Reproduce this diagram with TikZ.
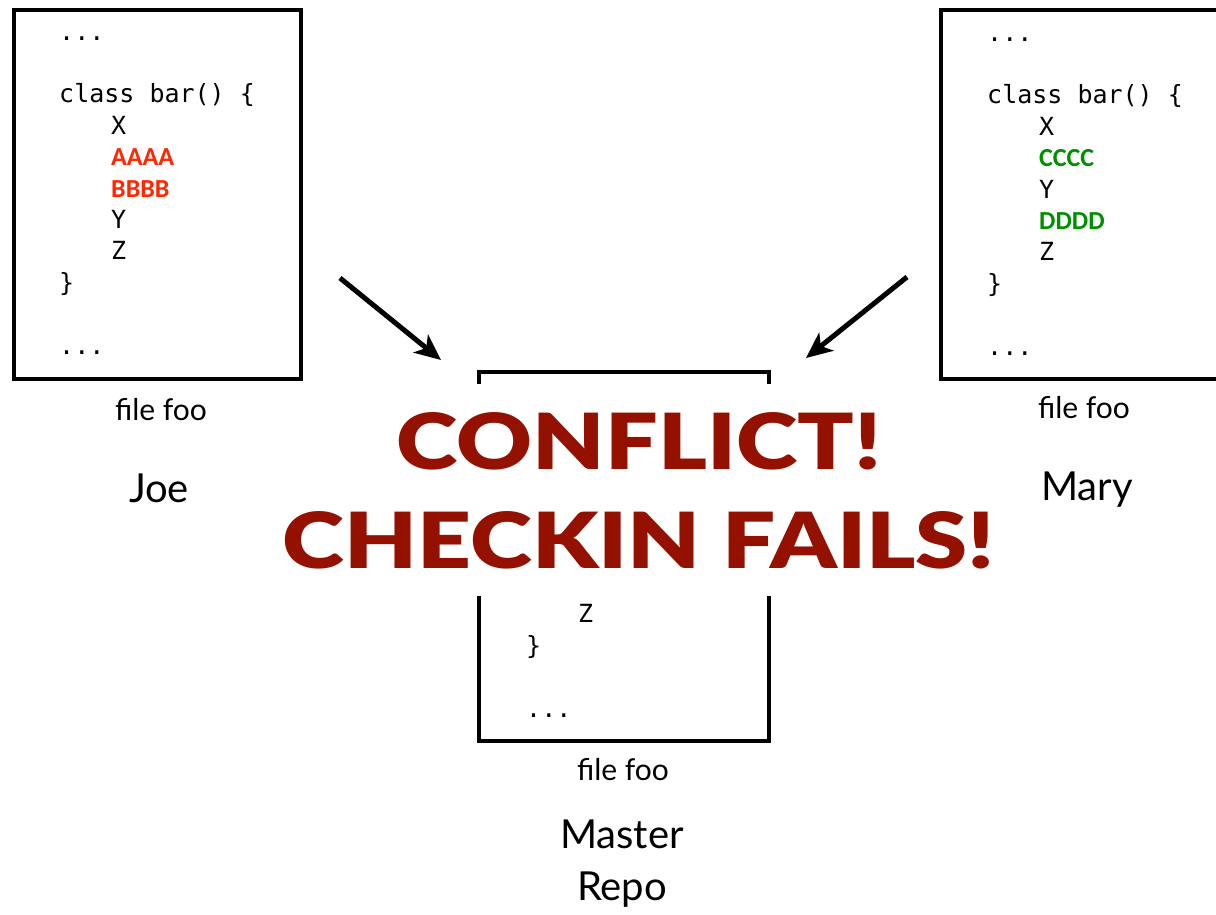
\documentclass[tikz,border=0pt]{standalone}
\usepackage{fontspec}
\usepackage{graphicx}
\setmainfont{Lato}
\setmonofont{DejaVu Sans Mono}
\newfontfamily\codebold{Carlito}
\newfontfamily\heavyfont{Lato Black}
\usetikzlibrary{arrows.meta}

\definecolor{cayenne}{HTML}{941100}
\definecolor{addred}{HTML}{FF2600}
\definecolor{addgreen}{HTML}{008F00}

\tikzset{
  filebox/.style={line width=4pt},
  code/.style={anchor=base west, inner sep=0pt, font=\fontsize{25}{25}\selectfont\ttfamily},
  added/.style={anchor=base west, inner sep=0pt, font=\fontsize{26}{26}\selectfont\codebold\bfseries},
  filelabel/.style={anchor=base, inner sep=0pt, font=\fontsize{30}{30}\selectfont},
  owner/.style={anchor=base, inner sep=0pt, font=\fontsize{40}{40}\selectfont},
  push/.style={line width=5pt, -{Stealth[length=26pt,width=23pt,inset=7pt]}},
  shout/.style={anchor=base, inner sep=0pt, text=cayenne},
}

\begin{document}
\begin{tikzpicture}[x=1pt, y=-1pt]
  \useasboundingbox (0,0) rectangle (1216,914);

  % Joe's working copy
  \draw[filebox] (13.5,10) rectangle (301,379);
  \node[code] (j0) at (59,40)    {...};
  \node[code] (j2) at (59,102.8) {class bar() \{};
  \node[code] (j3) at (111,134.2) {X};
  \node[added, text=addred] (j4) at (111,165.6) {AAAA};
  \node[added, text=addred] (j5) at (111,197) {BBBB};
  \node[code] (j6) at (111,228.4) {Y};
  \node[code] (j7) at (111,259.8) {Z};
  \node[code] (j8) at (59,291.2)  {\}};
  \node[code] (j10) at (59,354)   {...};
  \node[filelabel] (joefile) at (161,420) {file foo};
  \node[owner] (joe) at (159,502) {Joe};

  % Mary's working copy (runs off the right edge)
  \draw[filebox] (1216,10) -- (941,10) -- (941,379) -- (1216,379);
  \node[code] (m0) at (987,41)    {...};
  \node[code] (m2) at (987,103.8) {class bar() \{};
  \node[code] (m3) at (1039,135.2) {X};
  \node[added, text=addgreen] (m4) at (1039,166.6) {CCCC};
  \node[code] (m5) at (1039,198) {Y};
  \node[added, text=addgreen] (m6) at (1039,229.4) {DDDD};
  \node[code] (m7) at (1039,260.8) {Z};
  \node[code] (m8) at (987,292.2)  {\}};
  \node[code] (m10) at (987,355)   {...};
  \node[filelabel] (maryfile) at (1084,418) {file foo};
  \node[owner] (mary) at (1087,500) {Mary};

  % Master repository copy
  \draw[filebox] (479,372) rectangle (769,741);
  \node[code] (r7) at (578,622.8) {Z};
  \node[code] (r8) at (526,654.2) {\}};
  \node[code] (r10) at (526,717)  {...};
  \node[filelabel] (repofile) at (623,780) {file foo};
  \node[owner] (master) at (622,848) {Master};
  \node[owner] (repo) at (622,900) {Repo};

  % Both pushes head for the master copy
  \coordinate (joetail) at (340,278);
  \coordinate (joetip) at (441,360);
  \coordinate (marytail) at (907,277);
  \coordinate (marytip) at (806,358);
  \draw[push] (joetail) -- (joetip);
  \draw[push] (marytail) -- (marytip);

  % Conflict banner over the master copy
  \node[fill=white, minimum width=740pt, minimum height=212pt, inner sep=0pt] (banner) at (639,490) {};
  \node[shout] (conflict) at (639,469) {\resizebox{484pt}{57pt}{\heavyfont CONFLICT!}};
  \node[shout] (fails) at (639,568) {\resizebox{712pt}{57pt}{\heavyfont CHECKIN FAILS!}};
\end{tikzpicture}
\end{document}
